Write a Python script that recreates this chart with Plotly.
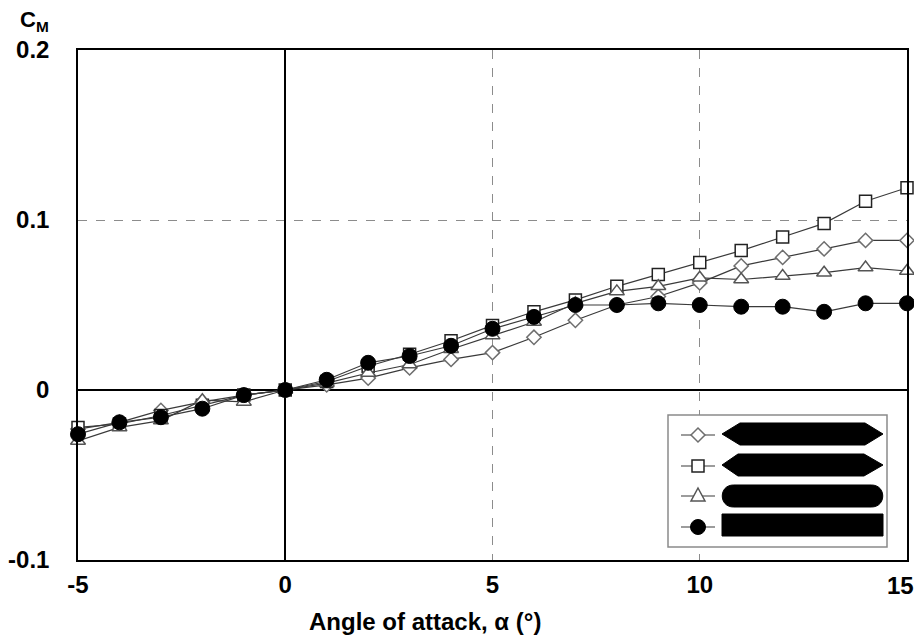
import plotly.graph_objects as go

# ---------------- data ----------------
alpha = [-5, -4, -3, -2, -1, 0, 1, 2, 3, 4, 5, 6, 7, 8, 9, 10, 11, 12, 13, 14, 15]
cm_diamond = [-0.023, -0.019, -0.012, -0.007, -0.003, 0.0, 0.003, 0.007, 0.013, 0.018, 0.022,
              0.031, 0.041, 0.050, 0.055, 0.063, 0.073, 0.078, 0.083, 0.088, 0.088]
cm_square = [-0.022, -0.020, -0.015, -0.009, -0.003, 0.0, 0.005, 0.014, 0.021, 0.029, 0.038,
             0.046, 0.053, 0.061, 0.068, 0.075, 0.082, 0.090, 0.098, 0.111, 0.119]
cm_triangle = [-0.030, -0.022, -0.018, -0.006, -0.007, 0.0, 0.004, 0.010, 0.015, 0.024, 0.032,
               0.040, 0.051, 0.058, 0.061, 0.066, 0.065, 0.067, 0.069, 0.072, 0.070]
cm_circle = [-0.026, -0.019, -0.016, -0.011, -0.003, 0.0, 0.006, 0.016, 0.020, 0.026, 0.036,
             0.043, 0.050, 0.050, 0.051, 0.050, 0.049, 0.049, 0.046, 0.051, 0.051]

x_ticks = [-5, 0, 5, 10, 15]
x_ticktext = ["-5", "0", "5", "10", "15"]
y_ticks = [-0.1, 0, 0.1, 0.2]
y_ticktext = ["-0.1", "0", "0.1", "0.2"]
x_title = "Angle of attack, α (°)"
y_title = "C<sub>M</sub>"

FONT = "Liberation Sans, Arial, sans-serif"
# target picture geometry (screen pixels)
W, H = 922, 643
L, T, RX, BY = 78, 50, 907, 560   # plot-area edges on screen
OFF = 8                           # page body margin offset
PW, PH = RX - L, BY - T


def px(x):
    return (x - L) / PW


def py(y):
    return (BY - y) / PH


def path(points, close=True):
    s = "M" + " L".join(f"{px(a):.5f},{py(b):.5f}" for a, b in points)
    return s + (" Z" if close else "")


series = [
    (cm_diamond, dict(symbol="diamond", size=11, color="white", line=dict(color="#6e6e6e", width=1.5))),
    (cm_square, dict(symbol="square", size=12, color="white", line=dict(color="#222222", width=1.5))),
    (cm_triangle, dict(symbol="triangle-up", size=13, color="white", line=dict(color="#555555", width=1.5))),
    (cm_circle, dict(symbol="circle", size=15, color="black", line=dict(color="black", width=1))),
]

fig = go.Figure()
for vals, mk in series:
    fig.add_trace(go.Scatter(x=alpha, y=vals, mode="lines+markers",
                             line=dict(color="#3a3a3a", width=1.2),
                             marker=mk, showlegend=False, cliponaxis=False))

# ---------- hand-built legend (pixel positions converted to paper coords) ----------
shapes = []
shapes.append(dict(type="rect", xref="paper", yref="paper", layer="above",
                   x0=px(668), x1=px(887), y0=py(415), y1=py(547),
                   fillcolor="white", line=dict(color="#8a8a8a", width=1.5)))
hulls = [
    [(722, 434), (740, 423), (865, 423), (883, 434), (865, 445), (740, 445)],
    [(722, 465), (738, 454), (864, 454), (883, 465), (864, 476), (738, 476)],
]
for pts in hulls:
    shapes.append(dict(type="path", path=path(pts), xref="paper", yref="paper", layer="above",
                       fillcolor="black", line=dict(color="black", width=1)))
# rounded (stadium) hull
a0, a1, t0, t1, k = 733.5, 871.5, 485, 507, 15
stadium = (f"M{px(a0):.5f},{py(t0):.5f} L{px(a1):.5f},{py(t0):.5f} "
           f"C{px(a1 + k):.5f},{py(t0):.5f} {px(a1 + k):.5f},{py(t1):.5f} {px(a1):.5f},{py(t1):.5f} "
           f"L{px(a0):.5f},{py(t1):.5f} "
           f"C{px(a0 - k):.5f},{py(t1):.5f} {px(a0 - k):.5f},{py(t0):.5f} {px(a0):.5f},{py(t0):.5f} Z")
shapes.append(dict(type="path", path=stadium, xref="paper", yref="paper", layer="above",
                   fillcolor="black", line=dict(color="black", width=1)))
shapes.append(dict(type="rect", xref="paper", yref="paper", layer="above",
                   x0=px(722), x1=px(883), y0=py(514), y1=py(536),
                   fillcolor="black", line=dict(color="black", width=1)))

# legend sample line + marker glyphs
rows_y = [435, 466, 496, 527]
cx = 698
for ry in rows_y:
    shapes.append(dict(type="line", xref="paper", yref="paper", layer="above",
                       x0=px(681), x1=px(715), y0=py(ry), y1=py(ry),
                       line=dict(color="#3a3a3a", width=1.2)))
d = 7
shapes.append(dict(type="path", xref="paper", yref="paper", layer="above",
                   path=path([(cx, 435 - d), (cx + d, 435), (cx, 435 + d), (cx - d, 435)]),
                   fillcolor="white", line=dict(color="#6e6e6e", width=1.5)))
s = 6
shapes.append(dict(type="rect", xref="paper", yref="paper", layer="above",
                   x0=px(cx - s), x1=px(cx + s), y0=py(466 - s), y1=py(466 + s),
                   fillcolor="white", line=dict(color="#222222", width=1.5)))
shapes.append(dict(type="path", xref="paper", yref="paper", layer="above",
                   path=path([(cx, 496 - 8), (cx + 7, 496 + 5), (cx - 7, 496 + 5)]),
                   fillcolor="white", line=dict(color="#555555", width=1.5)))
r = 7.5
shapes.append(dict(type="circle", xref="paper", yref="paper", layer="above",
                   x0=px(cx - r), x1=px(cx + r), y0=py(527 - r), y1=py(527 + r),
                   fillcolor="black", line=dict(color="black", width=1)))

tickfont = dict(family=FONT, size=24, weight="bold")
FIG_H = H - 2 * OFF   # keep the page free of a vertical scrollbar
fig.update_layout(
    width=W - OFF, height=FIG_H,
    margin=dict(l=L - OFF, r=W - RX, t=T - OFF, b=FIG_H + OFF - BY, autoexpand=False),
    paper_bgcolor="white", plot_bgcolor="white",
    font=dict(family=FONT, size=24, color="black"),
    shapes=shapes,
    xaxis=dict(range=[-5, 15], tickvals=x_ticks, ticktext=x_ticktext[:-1] + [""],
               showgrid=True, gridcolor="#8c8c8c", griddash="dash", gridwidth=1,
               zeroline=True, zerolinecolor="black", zerolinewidth=1.5,
               showline=True, mirror=True, linecolor="black", linewidth=1.5,
               ticks="", ticklabelstandoff=2, automargin=False, tickfont=tickfont),
    yaxis=dict(range=[-0.1, 0.2], tickvals=y_ticks, ticktext=y_ticktext,
               showgrid=True, gridcolor="#8c8c8c", griddash="dash", gridwidth=1,
               zeroline=True, zerolinecolor="black", zerolinewidth=1.5,
               showline=True, mirror=True, linecolor="black", linewidth=1.5,
               ticks="", ticklabelstandoff=22, automargin=False, tickfont=tickfont),
    annotations=[
        # last x tick label, nudged left so it stays inside the window
        dict(text=x_ticktext[-1], xref="paper", yref="paper",
             x=px(900), y=py(585), xanchor="center", yanchor="middle",
             showarrow=False, font=tickfont),
        dict(text=x_title, xref="paper", yref="paper",
             x=px(425), y=py(621),
             xanchor="center", yanchor="middle", showarrow=False,
             font=dict(family=FONT, size=24, weight="bold")),
        dict(text=y_title, xref="paper", yref="paper",
             x=px(18), y=py(21),
             xanchor="left", yanchor="middle", showarrow=False,
             font=dict(family=FONT, size=22, weight="bold")),
    ],
)

fig.write_html("out.html")
